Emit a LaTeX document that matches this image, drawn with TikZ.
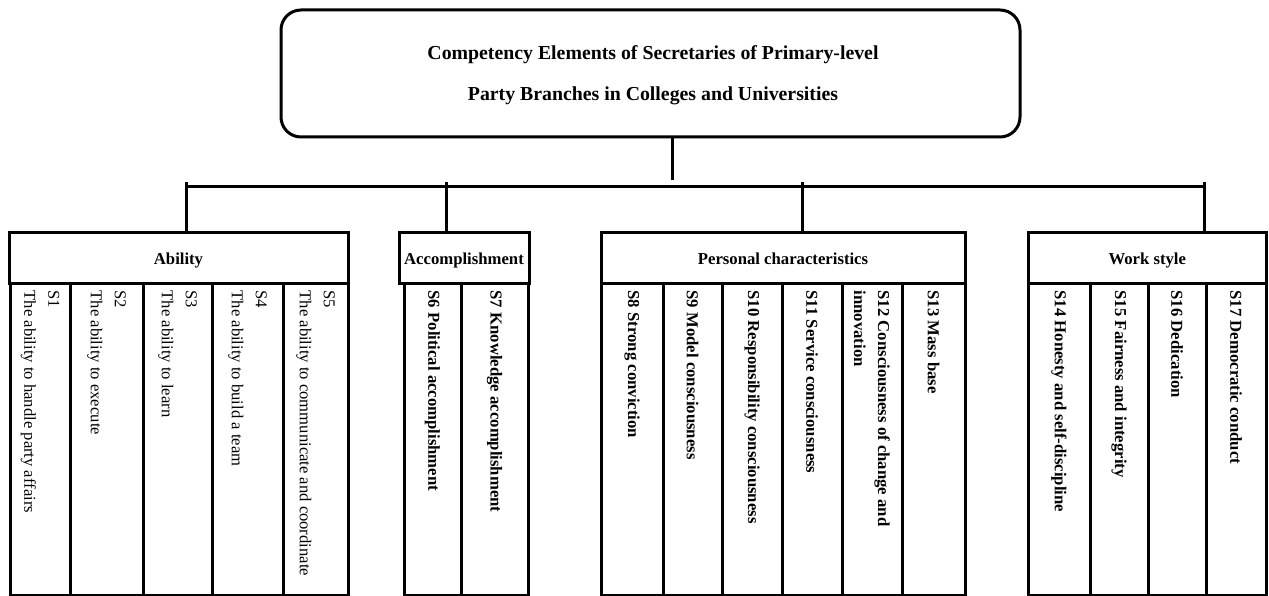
\documentclass[tikz,border=0pt]{standalone}
\usepackage{fontspec}
\setmainfont{Liberation Serif}
\newcommand{\mkcol}[5]{%
  \node[colbox, minimum width={(#3)-(#2)}] (#1) at ({((#2)+(#3))/2},439) {};
  \node[#4] (#1t) at ([yshift=-9pt]#1.north) {#5};
}
\tikzset{
  lw/.style={line width=3pt},
  titlebox/.style={draw, lw, rounded corners=20pt, minimum width=739pt, minimum height=127pt, inner sep=0pt},
  headbox/.style={draw, lw, fill=white, minimum height=50pt, font=\bfseries\fontsize{16.7}{20}\selectfont, text height=14pt, text depth=2pt, inner sep=0pt},
  colbox/.style={draw, lw, minimum height=312pt, inner sep=0pt},
  coltext/.style={rotate=-90, anchor=west, inner sep=0pt, align=left, font=\fontsize{16.6}{24}\selectfont},
  boldtext/.style={coltext, font=\bfseries\fontsize{16.7}{24}\selectfont},
  conn/.style={lw},
}
\begin{document}
\begin{tikzpicture}[x=1pt,y=-1pt]
\fill[white] (0,0) rectangle (1269,596);
\useasboundingbox (0,0) rectangle (1269,596);

% title
\node[titlebox] (top) at (650.5,73.5) {};
\node[font=\bfseries\fontsize{19.8}{41}\selectfont, align=center, inner sep=0pt] (title) at (653,75)
  {Competency Elements of Secretaries of Primary-level\\Party Branches in Colleges and Universities};

% columns
\mkcol{s1}{10}{70}{coltext}{S1\\The ability to handle party affairs}
\mkcol{s2}{70}{143}{coltext}{S2\\The ability to execute}
\mkcol{s3}{143}{212}{coltext}{S3\\The ability to learn}
\mkcol{s4}{212}{283}{coltext}{S4\\The ability to build a team}
\mkcol{s5}{283}{348}{coltext}{S5\\The ability to communicate and coordinate}
\mkcol{s6}{404}{461}{boldtext}{S6 Political accomplishment}
\mkcol{s7}{461}{528}{boldtext}{S7 Knowledge accomplishment}
\mkcol{s8}{601}{663}{boldtext}{S8 Strong conviction}
\mkcol{s9}{663}{722}{boldtext}{S9 Model consciousness}
\mkcol{s10}{722}{782}{boldtext}{S10 Responsibility consciousness}
\mkcol{s11}{782}{842}{boldtext}{S11 Service consciousness}
\mkcol{s12}{842}{902}{boldtext}{S12 Consciousness of change and\\innovation}
\mkcol{s13}{902}{965}{boldtext}{S13 Mass base}
\mkcol{s14}{1028}{1090}{boldtext}{S14 Honesty and self-discipline}
\mkcol{s15}{1090}{1148}{boldtext}{S15 Fairness and integrity}
\mkcol{s16}{1148}{1206}{boldtext}{S16 Dedication}
\mkcol{s17}{1206}{1266}{boldtext}{S17 Democratic conduct}

% headers
\node[headbox, minimum width=339pt] (hA) at (178.5,258) {Ability};
\node[headbox, minimum width=130pt] (hB) at (464,258) {Accomplishment};
\node[headbox, minimum width=364pt] (hC) at (783,258) {Personal characteristics};
\node[headbox, minimum width=238.5pt] (hD) at (1147.25,258) {Work style};

% connectors
\coordinate (jA) at (186,182);
\coordinate (jB) at (446,182);
\coordinate (jC) at (802,182);
\coordinate (jD) at (1204,182);
\coordinate (busL) at (186,186.5);
\coordinate (busR) at (1204,186.5);
\coordinate (stub) at (672,180);
\draw[conn] (busL) -- (busR);
\draw[conn] (jA) -- (jA |- hA.north);
\draw[conn] (jB) -- (jB |- hB.north);
\draw[conn] (jC) -- (jC |- hC.north);
\draw[conn] (jD) -- (jD |- hD.north);
\draw[conn] (stub |- top.south) -- (stub);
\end{tikzpicture}
\end{document}
